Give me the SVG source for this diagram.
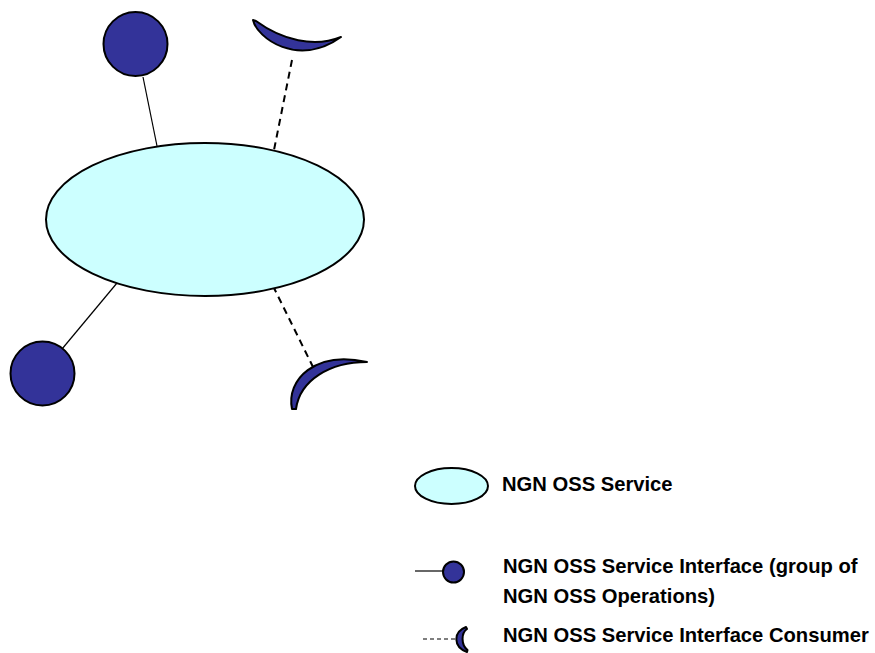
<svg xmlns="http://www.w3.org/2000/svg" width="875" height="653" viewBox="0 0 875 653">
  <style>
    .svc { fill: #ccffff; stroke: #000; stroke-width: 2; }
    .iface { fill: #333399; stroke: #000; stroke-width: 2; stroke-linejoin: round; }
    .link { stroke: #000; stroke-width: 1.2; fill: none; }
    .use { stroke: #000; stroke-width: 2; stroke-dasharray: 7 5; fill: none; }
    .lbl { font-family: "Liberation Sans", Arial, sans-serif; font-weight: bold; font-size: 20.2px; fill: #000; }
  </style>
  <rect width="875" height="653" fill="#fff"/>

  <g id="connectors">
    <line class="link" x1="143" y1="77" x2="157" y2="146"/>
    <line class="link" x1="62" y1="349" x2="117" y2="283"/>
    <line class="use" x1="292" y1="60" x2="274" y2="150"/>
    <line class="use" x1="273" y1="286" x2="313" y2="367"/>
  </g>

  <g id="service">
    <ellipse class="svc" cx="205" cy="219.5" rx="159" ry="76.5"/>
  </g>

  <g id="interface-top">
    <circle class="iface" cx="135.5" cy="44" r="32"/>
  </g>
  <g id="interface-bottom">
    <circle class="iface" cx="42.5" cy="373.5" r="32"/>
  </g>

  <g id="consumer-top">
    <path class="iface" d="M253,20 C257,38 298,68 341,37 C314,48 282,40 256,21 Z"/>
  </g>
  <g id="consumer-bottom">
    <path class="iface" d="M292,409 C286,380 315,350 367,362 C330,362 300,380 296,409 Z"/>
  </g>

  <g id="legend-service">
    <ellipse class="svc" cx="451.5" cy="486" rx="36.5" ry="18"/>
    <text class="lbl" x="502" y="491">NGN OSS Service</text>
  </g>

  <g id="legend-interface">
    <line class="link" x1="415" y1="571" x2="443" y2="571" stroke-width="1.6"/>
    <circle class="iface" cx="453.5" cy="572" r="10.5"/>
    <text class="lbl" x="503" y="573">NGN OSS Service Interface (group of</text>
    <text class="lbl" x="503" y="603">NGN OSS Operations)</text>
  </g>

  <g id="legend-consumer">
    <line class="link" x1="423" y1="639" x2="458" y2="639" stroke-width="1.4" stroke-dasharray="4 3"/>
    <path class="iface" d="M466,627 C453,632 453,647 467,652 L467.5,650 C461,645 461,633 467,629 Z"/>
    <text class="lbl" x="503" y="642">NGN OSS Service Interface Consumer</text>
  </g>
</svg>
